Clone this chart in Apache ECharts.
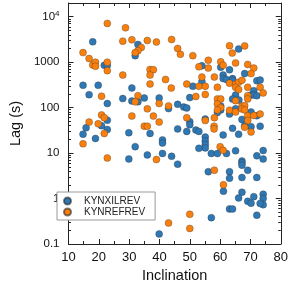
<!DOCTYPE html>
<html><head><meta charset="utf-8">
<script src="https://cdn.jsdelivr.net/npm/echarts@6/dist/echarts.min.js"></script>
<style>html,body{margin:0;padding:0;background:#fff}#c{width:291px;height:291px}</style>
</head><body><div id="c"></div>
<script>
// KYNXILREV (blue)
const xilInclination = [18.0,21.8,22.8,14.8,19.8,16.8,22.8,22.8,20.9,15.8,22.8,14.8,18.9,32.9,32.0,30.9,27.9,30.9,32.9,35.0,39.9,29.9,36.9,32.0,29.9,36.0,39.9,54.0,60.2,66.1,63.1,68.1,54.0,51.0,50.0,61.0,61.0,62.1,64.1,64.1,72.1,73.2,71.1,70.2,71.1,72.1,65.1,64.1,66.2,46.0,48.0,49.0,43.0,60.2,60.2,59.1,63.1,65.1,70.2,72.1,67.2,68.1,70.2,73.2,64.1,66.1,61.0,55.1,50.0,50.0,46.0,49.0,52.0,53.0,41.0,41.0,55.1,55.1,55.1,55.1,53.0,41.0,44.0,46.0,57.1,59.1,62.1,65.1,56.1,63.1,63.1,61.1,67.2,67.2,67.2,69.1,72.1,74.2,74.2,67.2,72.1,67.2,66.1,69.1,70.2,71.1,74.2,74.2,74.2,73.2,72.1,63.1,64.1,57.1];
const xilLag = [2800,850,850,310,310,193,123,53,40,36,33,26,21,2450,1390,270,158,140,134,163,163,28,27,13.8,7.4,9.1,0.166,830,770,1950,680,560,370,295,166,520,435,415,435,400,390,405,235,190,190,183,190,155,147,118,103,98,95,109,89,78,72,94,80,66,55,40,38,39,35,26,25,56,49,42,34,30,32,30,19.5,16.6,22.5,18.5,15.5,13,12.7,9.8,8.5,5.7,9.8,9.8,9.8,11.2,3.9,3.9,2.8,1.45,6.7,6.1,5.4,4.2,8.7,11.4,7.4,2.9,2.9,1.38,1.03,0.87,0.79,1.1,1.25,1.0,0.73,0.78,0.43,0.59,0.59,0.38];
// KYNREFREV (orange)
const refInclination = [14.8,16.8,18.0,18.9,18.9,22.8,22.8,22.8,20.9,20.9,21.8,16.8,19.8,21.8,14.8,22.8,28.8,27.9,30.9,34.0,32.9,32.0,36.0,39.0,27.9,36.9,38.0,36.9,36.9,32.9,32.0,39.9,36.0,30.9,38.0,35.0,36.0,39.9,39.0,44.0,46.0,46.9,51.0,56.1,53.0,56.1,60.2,61.0,63.1,64.0,68.1,65.1,69.1,71.1,70.2,42.0,54.0,53.0,49.0,43.9,55.1,55.1,52.0,58.1,59.1,63.1,65.1,66.1,67.2,65.1,66.1,69.1,73.2,74.2,69.1,69.1,65.1,59.1,60.2,59.1,43.0,60.2,59.1,63.1,65.1,67.2,68.1,67.2,68.1,69.1,71.1,73.2,69.1,68.1,70.2,58.1,58.0,58.0,55.1,49.0,60.0,61.0,58.1,61.1,50.0,50.0,43.0];
const refLag = [1620,1200,870,1000,810,1000,650,7100,178,69,60,48,44,27,16,7.8,5700,2900,3100,2100,1780,1620,3000,2770,520,690,680,520,330,183,134,123,94,65,65,39,39,48,7.2,3150,2000,1490,1390,1100,790,740,1020,850,2300,1580,2280,960,890,740,560,415,470,295,330,270,295,195,175,470,280,345,325,360,400,280,250,280,280,210,183,155,142,155,155,120,109,100,89,88,80,108,110,93,89,66,67,72,52,37,29,60,39,34,52,60,13.8,11.5,4.2,2.0,0.45,0.22,0.29];

const seriesNames = ['KYNXILREV','KYNREFREV'];
const seriesColors = ['#2f78b4','#f9800f'];
const yTickValues = [0.1,1,10,100,1000,10000];
const yTickLabels = ['0.1','1','10','100','1000','{b|10}{s|4}'];

const yMinor = [];
for (let d = -1; d <= 4; d++) for (let k = 2; k <= 9; k++) { const v = k * Math.pow(10, d); if (v < 20000) yMinor.push(+v.toPrecision(3)); }

const zip = (a, b) => a.map((x, i) => [x, b[i]]);
const FONT = 'Liberation Sans, Arial, Helvetica, sans-serif';
const lineCol = '#222';

const yBase = { type: 'log', logBase: 10, min: 0.1, max: 20000, splitLine: { show: false } };
const option = {
  animation: false,
  textStyle: { fontFamily: FONT, color: '#111' },
  grid: { left: 47, right: 4, top: 3, bottom: 47 },
  legend: {
    data: seriesNames, orient: 'vertical', left: 57, top: 192,
    icon: 'circle', itemWidth: 7, itemHeight: 7, itemGap: 1,
    padding: [4, 10, 3, 6],
    borderColor: '#9a9a9a', borderWidth: 1, backgroundColor: '#fff',
    textStyle: { fontFamily: FONT, fontSize: 10, color: '#222', lineHeight: 10, padding: [0, 0, 0, 8] }
  },
  xAxis: [
    { type: 'value', min: 10, max: 80, interval: 10, position: 'bottom',
      name: 'Inclination', nameLocation: 'middle', nameGap: 24,
      nameTextStyle: { fontSize: 14.5, color: '#111', fontFamily: FONT },
      axisLine: { lineStyle: { color: lineCol, width: 1 } },
      axisTick: { inside: true, length: 5, lineStyle: { color: lineCol } },
      minorTick: { show: true, splitNumber: 2, length: 3, lineStyle: { color: lineCol } },
      axisLabel: { fontSize: 13, margin: 7, color: '#111', fontFamily: FONT },
      splitLine: { show: false } },
    { type: 'value', min: 10, max: 80, interval: 10, position: 'top',
      axisLine: { lineStyle: { color: lineCol, width: 1 } },
      axisTick: { inside: true, length: 5, lineStyle: { color: lineCol } },
      minorTick: { show: true, splitNumber: 2, length: 3, lineStyle: { color: lineCol } },
      axisLabel: { show: false }, splitLine: { show: false } }
  ],
  yAxis: [
    Object.assign({}, yBase, { position: 'left',
      name: 'Lag (s)', nameLocation: 'middle', nameGap: 31,
      nameTextStyle: { fontSize: 14.5, color: '#111', fontFamily: FONT },
      axisLine: { show: true, lineStyle: { color: lineCol, width: 1 } },
      axisTick: { inside: true, length: 5, customValues: yTickValues, lineStyle: { color: lineCol } },
      axisLabel: { fontSize: 11.5, margin: 9, color: '#111', fontFamily: FONT, customValues: yTickValues,
        formatter: v => { const i = yTickValues.findIndex(t => Math.abs(Math.log10(t) - Math.log10(v)) < 1e-6); return i < 0 ? '' : yTickLabels[i]; },
        rich: { b: { fontSize: 11.5, color: '#111', fontFamily: FONT }, s: { fontSize: 8, color: '#111', fontFamily: FONT, verticalAlign: 'top', padding: [0,0,6,0] } } } }),
    Object.assign({}, yBase, { position: 'right',
      axisLine: { show: true, lineStyle: { color: lineCol, width: 1 } },
      axisTick: { inside: true, length: 5, customValues: yTickValues, lineStyle: { color: lineCol } },
      axisLabel: { show: false } }),
    Object.assign({}, yBase, { position: 'left',
      axisLine: { show: false },
      axisTick: { inside: true, length: 2.5, customValues: yMinor, lineStyle: { color: lineCol } },
      axisLabel: { show: false } }),
    Object.assign({}, yBase, { position: 'right',
      axisLine: { show: false },
      axisTick: { inside: true, length: 2.5, customValues: yMinor, lineStyle: { color: lineCol } },
      axisLabel: { show: false } })
  ],
  series: [
    { name: seriesNames[0], type: 'scatter', xAxisIndex: 0, yAxisIndex: 0, symbol: 'circle', symbolSize: 7,
      itemStyle: { color: seriesColors[0], opacity: 1, borderColor: 'rgba(40,40,40,0.6)', borderWidth: 0.5 },
      data: zip(xilInclination, xilLag) },
    { name: seriesNames[1], type: 'scatter', xAxisIndex: 0, yAxisIndex: 0, symbol: 'circle', symbolSize: 7,
      itemStyle: { color: seriesColors[1], opacity: 1, borderColor: 'rgba(40,40,40,0.6)', borderWidth: 0.5 },
      data: zip(refInclination, refLag) }
  ]
};
const chart = echarts.init(document.getElementById('c'), null, { renderer: 'canvas' });
chart.setOption(option);
</script></body></html>
